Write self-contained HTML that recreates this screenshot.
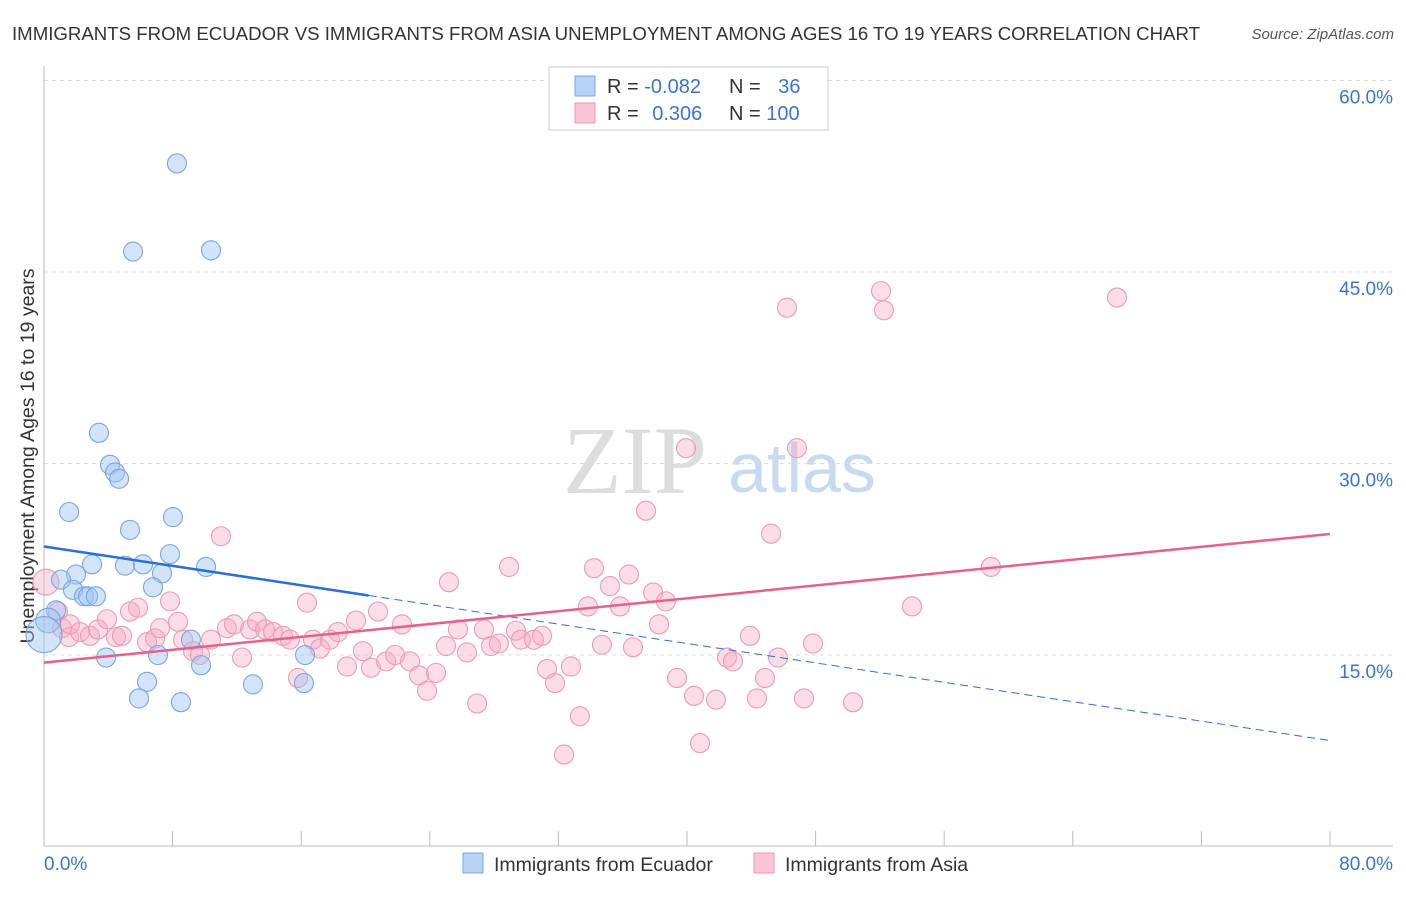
<!DOCTYPE html>
<html><head><meta charset="utf-8"><style>
body{margin:0;background:#fff;font-family:"Liberation Sans",sans-serif;}
</style></head><body>
<svg id="c" width="1406" height="892" xmlns="http://www.w3.org/2000/svg" font-family="Liberation Sans, sans-serif">
<text x="12" y="40" font-size="18" fill="#333" textLength="1188" lengthAdjust="spacingAndGlyphs">IMMIGRANTS FROM ECUADOR VS IMMIGRANTS FROM ASIA UNEMPLOYMENT AMONG AGES 16 TO 19 YEARS CORRELATION CHART</text>
<text x="1394" y="39" font-size="15" fill="#555" font-style="italic" text-anchor="end">Source: ZipAtlas.com</text>
<text x="635" y="493" font-size="96" fill="#ddd" font-family="Liberation Serif, serif" text-anchor="middle">ZIP</text>
<text x="802" y="492" font-size="70" fill="#c9d9ef" text-anchor="middle">atlas</text>
<text transform="translate(34,456) rotate(-90)" font-size="19.5" fill="#333" text-anchor="middle">Unemployment Among Ages 16 to 19 years</text>
<g id="grid"></g><g id="axes"></g><g id="pts"></g><g id="trend"></g>
<g>
<rect x="549" y="67" width="279" height="63" fill="#fff" stroke="#ccc"/>
<rect x="575" y="76" width="20" height="20" fill="#b8d3f4" stroke="#7aa6e2"/>
<rect x="575" y="103" width="20" height="20" fill="#f9c4d4" stroke="#ec9ab5"/>
<text x="607" y="93" font-size="20" fill="#333">R = <tspan fill="#3a74d0">-0.082</tspan></text>
<text x="729" y="93" font-size="20" fill="#333">N = <tspan fill="#3a74d0" dx="12">36</tspan></text>
<text x="607" y="120" font-size="20" fill="#333">R = <tspan fill="#3a74d0" dx="8">0.306</tspan></text>
<text x="729" y="120" font-size="20" fill="#333">N = <tspan fill="#3a74d0">100</tspan></text>
</g>
<g>
<rect x="463" y="853" width="20" height="20" fill="#b8d3f4" stroke="#7aa6e2"/>
<text x="494" y="871" font-size="19.5" fill="#333">Immigrants from Ecuador</text>
<rect x="754" y="853" width="20" height="20" fill="#f9c4d4" stroke="#ec9ab5"/>
<text x="785" y="871" font-size="19.5" fill="#333">Immigrants from Asia</text>
</g>
</svg>
<script>
const yTicks=[15,30,45,60];
const yTickLabels=["15.0%","30.0%","45.0%","60.0%"];
const xTicks=[0,8,16,24,32,40,48,56,64,72,80];
const xEndLabels=["0.0%","80.0%"];
const ecuadorX=[8.27,5.54,10.39,3.42,4.11,4.42,4.67,1.56,5.35,8.02,7.84,2.99,5.04,6.16,10.08,1.99,1.06,7.34,6.78,1.80,2.49,2.74,3.23,0.75,0.25,0.0,9.14,3.86,7.09,9.77,16.24,6.41,13.0,5.91,8.52,16.17];
const ecuadorY=[53.5,46.6,46.7,32.4,29.9,29.3,28.8,26.2,24.8,25.8,22.9,22.1,22.0,22.1,21.9,21.3,20.9,21.4,20.3,20.1,19.6,19.6,19.6,18.5,17.7,16.6,16.2,14.8,15.0,14.2,15.0,12.9,12.7,11.6,11.3,12.8];
const ecuadorSize=[1,1,1,1,1,1,1,1,1,1,1,1,1,1,1,1,1,1,1,1,1,1,1,1,1.3,1.9,1,1,1,1,1,1,1,1,1,1];
const asiaX=[0.12,0.87,1.12,1.56,1.62,2.24,2.86,3.36,3.92,4.48,4.85,5.35,5.85,6.41,6.91,7.22,7.84,8.34,8.65,9.27,9.70,10.39,11.01,11.38,11.82,12.32,12.82,13.25,13.75,14.25,14.87,15.30,15.80,16.36,16.73,17.17,17.79,18.29,18.85,19.41,19.84,20.34,20.78,21.28,21.84,22.27,22.77,23.33,23.83,24.39,25.01,25.19,25.75,26.31,26.94,27.37,27.81,28.30,28.93,29.36,29.67,30.48,30.98,31.29,31.79,32.35,32.78,33.34,33.84,34.21,34.71,35.21,35.83,36.39,36.64,37.45,37.89,38.26,38.69,39.38,39.94,40.44,40.81,41.80,42.49,42.86,43.92,44.35,44.85,45.23,45.66,46.22,46.84,47.28,47.84,50.33,52.07,52.25,54.00,58.91,66.75];
const asiaY=[20.7,18.4,17.1,16.4,17.4,16.8,16.5,17.0,17.8,16.4,16.5,18.4,18.7,16.0,16.3,17.1,19.2,17.6,16.2,15.3,15.0,16.2,24.3,17.1,17.4,14.8,17.0,17.6,17.0,16.8,16.5,16.2,13.2,19.1,16.2,15.5,16.2,16.8,14.1,17.7,15.3,14.0,18.4,14.5,15.0,17.4,14.5,13.4,12.2,13.6,15.7,20.7,17.0,15.2,11.2,17.0,15.7,15.9,21.9,16.9,16.2,16.2,16.5,13.9,12.8,7.2,14.1,10.2,18.8,21.8,15.8,20.4,18.8,21.3,15.6,26.3,19.9,17.4,19.2,13.2,31.2,11.8,8.1,11.5,14.8,14.5,16.5,11.6,13.2,24.5,14.8,42.2,31.2,11.6,15.9,11.3,43.5,42.0,18.8,21.9,43.0];
const ecuadorTrend=[23.5,-0.19];
const asiaTrend=[14.4,0.126];
const ecuadorSolidEndX=20.2;

const NS="http://www.w3.org/2000/svg";
const X0=44,X1=1330,Y0=846.5,YPX=12.767;
const sx=v=>X0+(X1-X0)*v/80, sy=v=>Y0-v*YPX;
function mk(tag,attrs,parent){const e=document.createElementNS(NS,tag);for(const k in attrs)e.setAttribute(k,attrs[k]);document.getElementById(parent).appendChild(e);return e;}
yTicks.forEach((t,i)=>{
 const g=mk('line',{x1:44,x2:1393,y1:sy(t),y2:sy(t),stroke:'#ddd','stroke-dasharray':'4,4'},'grid');
 
 
 const l=mk('text',{x:1393,y:sy(t)+23,'font-size':19,fill:'#3a74d0','text-anchor':'end'},'grid');l.textContent=yTickLabels[i];
 
 
});
const ya=mk('line',{x1:44,x2:44,y1:66,y2:846,stroke:'#bbb'},'axes');


const xa=mk('line',{x1:44,x2:1393,y1:846,y2:846,stroke:'#bbb'},'axes');


xTicks.forEach(t=>{const k=mk('line',{x1:sx(t),x2:sx(t),y1:831,y2:846,stroke:'#bbb'},'axes');
 
 });
[[0,'start',44],[80,'end',1393]].forEach((d,i)=>{const l=mk('text',{x:d[2],y:870,'font-size':19,fill:'#3a74d0','text-anchor':d[1]},'axes');l.textContent=xEndLabels[i];
 
 });
asiaX.forEach((v,i)=>{const c=mk('circle',{cx:sx(v),cy:sy(asiaY[i]),r:i==0?13:9.5,fill:'rgba(246,170,195,0.4)',stroke:'#ec9ab5','stroke-width':1.1},'pts');
 
 });
ecuadorX.forEach((v,i)=>{const c=mk('circle',{cx:sx(v),cy:sy(ecuadorY[i]),r:9.5*ecuadorSize[i],fill:'rgba(160,196,240,0.45)',stroke:'#7aa6e2','stroke-width':1.1},'pts');
 
 });
const ey=ecuadorTrend[0]+ecuadorSolidEndX*ecuadorTrend[1];
const b1=mk('line',{x1:sx(0),y1:sy(ecuadorTrend[0]),x2:sx(ecuadorSolidEndX),y2:sy(ey),stroke:'#2a6fd6','stroke-width':2.5},'trend');


const b2=mk('line',{x1:sx(ecuadorSolidEndX),y1:sy(ey),x2:sx(80),y2:sy(ecuadorTrend[0]+80*ecuadorTrend[1]),stroke:'#2a6fd6','stroke-width':1,'stroke-dasharray':'8,5'},'trend');


const p=mk('line',{x1:sx(0),y1:sy(asiaTrend[0]),x2:sx(80),y2:sy(asiaTrend[0]+80*asiaTrend[1]),stroke:'#e5608e','stroke-width':2.5},'trend');


</script>
</body></html>
